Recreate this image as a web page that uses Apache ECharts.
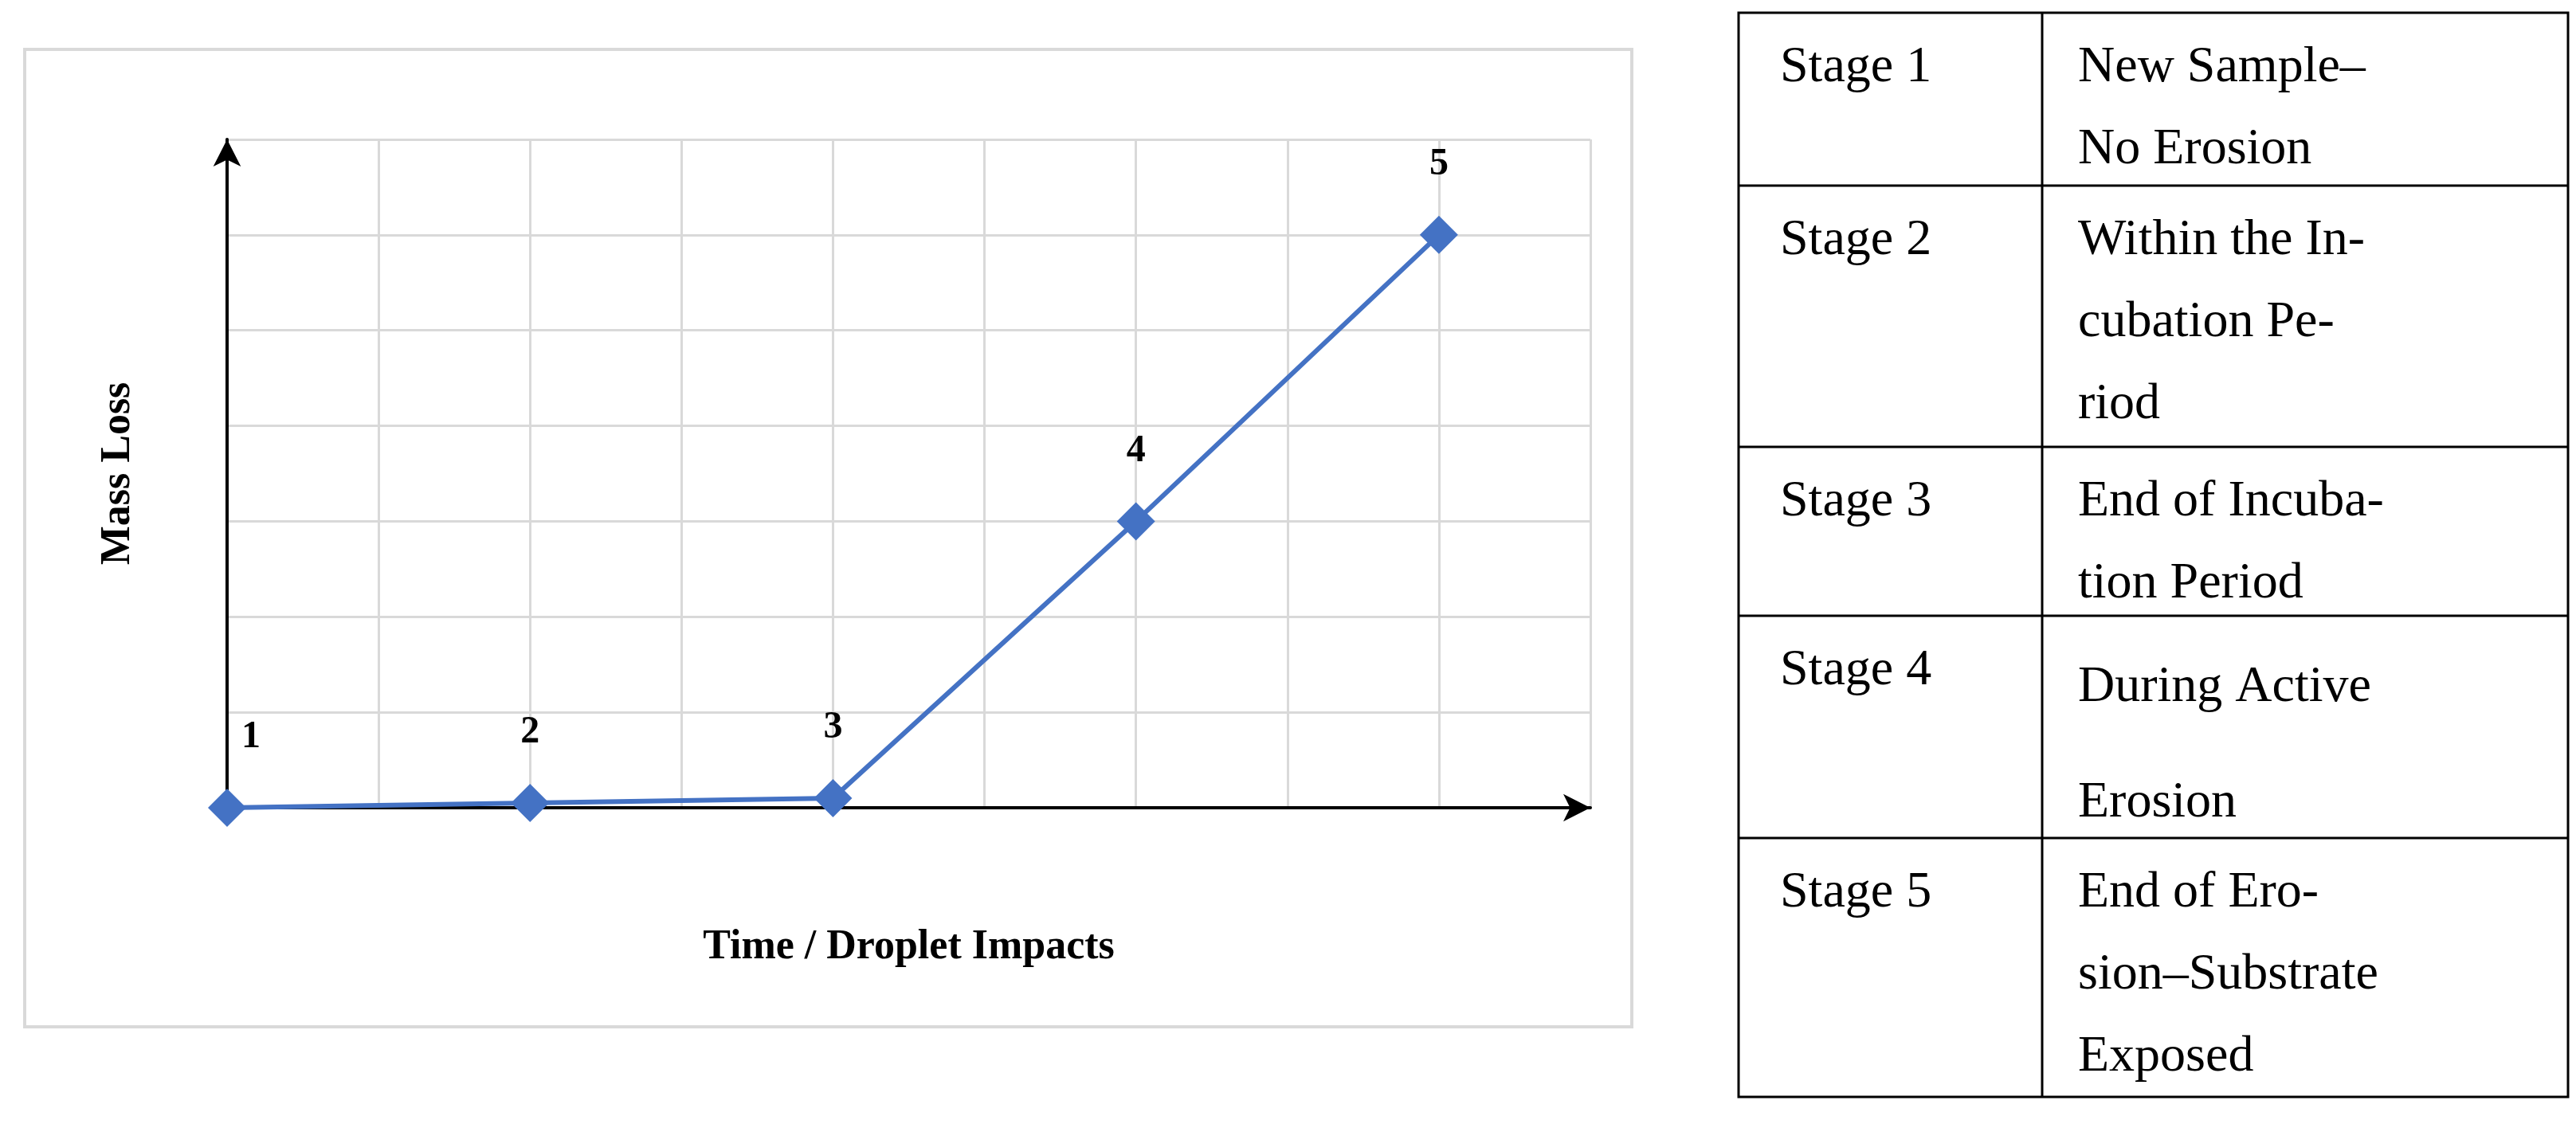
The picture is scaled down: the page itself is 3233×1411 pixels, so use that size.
<!DOCTYPE html>
<html>
<head>
<meta charset="utf-8">
<script src="https://cdn.jsdelivr.net/npm/echarts@6/dist/echarts.min.js"></script>
<style>
  html, body { margin: 0; padding: 0; background: #fff; }
  #main { width: 3233px; height: 1411px; }
</style>
</head>
<body>
<div id="main"></div>
<script>
// data
var stageX = [0, 2, 4, 6, 8];
var massLoss = [0, 0.05, 0.1, 3, 6];
var pointLabels = ['1', '2', '3', '4', '5'];
var stageNames = ['Stage 1', 'Stage 2', 'Stage 3', 'Stage 4', 'Stage 5'];
var stageText = [
  'New Sample–\nNo Erosion',
  'Within the In-\ncubation Pe-\nriod',
  'End of Incuba-\ntion Period',
  'During Active\nErosion',
  'End of Ero-\nsion–Substrate\nExposed'
];
var rowEdges = [16, 233, 561, 773, 1052, 1377];

var serif = '"Liberation Serif", "DejaVu Serif", serif';
var chart = echarts.init(document.getElementById('main'));

var tableGfx = [];
tableGfx.push({ type: 'rect', shape: { x: 2182, y: 16, width: 1041, height: 1361 },
  style: { fill: 'none', stroke: '#000', lineWidth: 3 } });
tableGfx.push({ type: 'line', shape: { x1: 2563, y1: 16, x2: 2563, y2: 1377 },
  style: { stroke: '#000', lineWidth: 3 } });
for (var i = 0; i < stageNames.length; i++) {
  var rowTop = rowEdges[i];
  if (i > 0) {
    tableGfx.push({ type: 'line', shape: { x1: 2182, y1: rowTop, x2: 3223, y2: rowTop },
      style: { stroke: '#000', lineWidth: 3 } });
  }
  var lh = i === 3 ? 145 : 103;
  tableGfx.push({ type: 'text', x: 2234, y: rowTop + 18,
    style: { text: stageNames[i], font: '64px ' + serif, fill: '#000', lineHeight: 103 } });
  tableGfx.push({ type: 'text', x: 2608, y: rowTop + 18,
    style: { text: stageText[i], font: '64px ' + serif, fill: '#000', lineHeight: lh } });
}
tableGfx.push({ type: 'rect', shape: { x: 31, y: 62, width: 2017, height: 1227 },
  style: { fill: 'none', stroke: '#d9d9d9', lineWidth: 4 }, z: -1 });

chart.setOption({
  backgroundColor: '#fff',
  animation: false,
  grid: { left: 285, top: 175, width: 1711, height: 839 },
  xAxis: {
    type: 'value', min: 0, max: 9, interval: 1,
    name: 'Time / Droplet Impacts', nameLocation: 'middle', nameGap: 150,
    nameTextStyle: { fontFamily: serif, fontWeight: 'bold', fontSize: 52, color: '#000' },
    axisLine: { lineStyle: { color: '#000', width: 4 }, symbol: ['none', 'arrow'], symbolSize: [26, 34] },
    axisTick: { show: false }, axisLabel: { show: false },
    splitLine: { show: true, lineStyle: { color: '#d9d9d9', width: 3 } }
  },
  yAxis: {
    type: 'value', min: 0, max: 7, interval: 1,
    name: 'Mass Loss', nameLocation: 'middle', nameGap: 110,
    nameTextStyle: { fontFamily: serif, fontWeight: 'bold', fontSize: 52, color: '#000' },
    axisLine: { lineStyle: { color: '#000', width: 4 }, symbol: ['none', 'arrow'], symbolSize: [26, 34] },
    axisTick: { show: false }, axisLabel: { show: false },
    splitLine: { show: true, lineStyle: { color: '#d9d9d9', width: 3 } }
  },
  series: [{
    type: 'line',
    data: stageX.map(function (x, k) {
      return {
        value: [x, massLoss[k]],
        label: { offset: k === 0 ? [30, 0] : [0, 0] }
      };
    }),
    symbol: 'diamond', symbolSize: 48,
    lineStyle: { color: '#4472c4', width: 6 },
    itemStyle: { color: '#4472c4' },
    label: {
      show: true, position: 'top', distance: 40,
      formatter: function (p) { return pointLabels[p.dataIndex]; },
      fontFamily: serif, fontWeight: 'bold', fontSize: 48, color: '#000'
    },
    z: 5
  }],
  graphic: tableGfx
});
</script>
</body>
</html>
